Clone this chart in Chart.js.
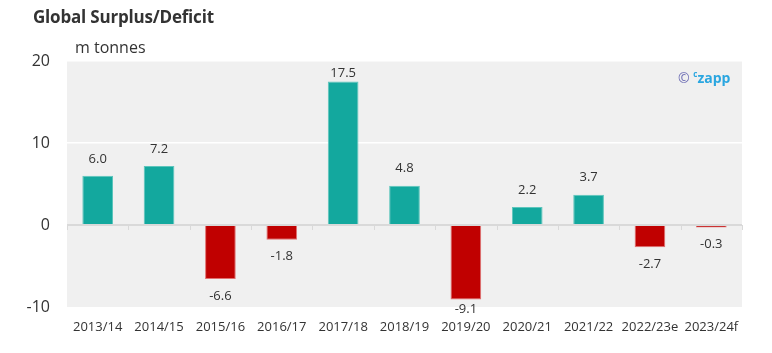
<!DOCTYPE html>
<html>
<head>
<meta charset="utf-8">
<script src="https://cdn.jsdelivr.net/npm/chart.js@4.4.0/dist/chart.umd.min.js"></script>
<style>
  body { margin: 0; background: #fff; font-family: "Open Sans", sans-serif; }
  #wrap { position: relative; width: 772px; height: 353px; }
  #title { position: absolute; left: 33px; top: 5px; font-size: 17px; font-weight: bold; color: #333; letter-spacing: -0.2px; }
  #unit { position: absolute; left: 75px; top: 36px; font-size: 16px; color: #333; }
  #mark { position: absolute; left: 678px; top: 68px; font-size: 14px; }
  #mark .c1 { color: #6f6fb5; }
  #mark .c2 { color: #2aa6e0; font-weight: bold; }
  #mark sup { font-size: 8px; color: #2aa6e0; font-weight: bold; }
</style>
</head>
<body>
<div id="wrap">
  <canvas id="grafico" width="772" height="353"></canvas>
  <div id="title">Global Surplus/Deficit</div>
  <div id="unit">m tonnes</div>
  <div id="mark"><span class="c1">©</span> <span class="c2"><sup>c</sup>zapp</span></div>
</div>
<script>
const seasons = ['2013/14', '2014/15', '2015/16', '2016/17', '2017/18', '2018/19', '2019/20', '2020/21', '2021/22', '2022/23e', '2023/24f'];
const surplus = [6.0, 7.2, -6.6, -1.8, 17.5, 4.8, -9.1, 2.2, 3.7, -2.7, -0.3];
const yTicks = [-10, 0, 10, 20];

const teal = '#13a89e';
const red = '#c00000';

// grey plot area
const plotBg = {
  id: 'plotBg',
  beforeDraw(chart) {
    const a = chart.chartArea;
    const ctx = chart.ctx;
    ctx.save();
    ctx.fillStyle = '#f0f0f0';
    ctx.fillRect(a.left, a.top, a.right - a.left, a.bottom - a.top);
    ctx.restore();
  }
};

// small ticks under the zero line, at category edges
const zeroTicks = {
  id: 'zeroTicks',
  beforeDatasetsDraw(chart) {
    const x = chart.scales.x;
    const y0 = chart.scales.y.getPixelForValue(0);
    const ctx = chart.ctx;
    ctx.save();
    ctx.strokeStyle = '#d9d9d9';
    ctx.lineWidth = 1;
    for (let i = 0; i <= seasons.length; i++) {
      const px = Math.round(x.getPixelForValue(i - 0.5)) + 0.5;
      ctx.beginPath();
      ctx.moveTo(px, y0);
      ctx.lineTo(px, y0 + 5);
      ctx.stroke();
    }
    ctx.restore();
  }
};

// value labels
const valueLabels = {
  id: 'valueLabels',
  afterDatasetsDraw(chart) {
    const ctx = chart.ctx;
    const meta = chart.getDatasetMeta(0);
    const area = chart.chartArea;
    ctx.save();
    ctx.font = '13px "Open Sans"';
    ctx.fillStyle = '#333';
    ctx.textAlign = 'center';
    ctx.textBaseline = 'middle';
    meta.data.forEach((bar, i) => {
      const v = surplus[i];
      let ty;
      if (v >= 0) {
        ty = Math.max(bar.y - 17, area.top + 12);
      } else {
        ty = Math.min(bar.y + 17, area.bottom + 2);
      }
      ctx.fillText(v.toFixed(1), bar.x, ty);
    });
    ctx.restore();
  }
};

const graficoSurplus = new Chart(document.querySelector('#grafico'), {
  type: 'bar',
  data: {
    labels: seasons,
    datasets: [{
      label: 'Surplus/Deficit',
      data: surplus,
      backgroundColor: surplus.map(v => v >= 0 ? teal : red),
      borderColor: surplus.map(v => v >= 0 ? '#5cc5bc' : '#e07070'),
      borderWidth: 1,
      barPercentage: 0.5,
      categoryPercentage: 1.0
    }]
  },
  options: {
    responsive: false,
    animation: false,
    layout: { padding: { top: 61, right: 30, bottom: 0, left: 5 } },
    plugins: {
      legend: { display: false },
      tooltip: { enabled: false }
    },
    scales: {
      x: {
        grid: { display: false, drawTicks: false },
        border: { display: false },
        ticks: { color: '#333', font: { family: 'Open Sans', size: 13 }, padding: 12, maxRotation: 0, autoSkip: false },
        afterFit: s => { s.height = 46; }
      },
      y: {
        min: -10,
        max: 20,
        afterBuildTicks: s => { s.ticks = yTicks.map(v => ({ value: v })); },
        grid: {
          drawTicks: false,
          color: c => c.tick.value === 0 ? '#d9d9d9' : (c.tick.value === -10 ? 'rgba(0,0,0,0)' : '#ffffff'),
          lineWidth: c => c.tick.value === 0 ? 2 : 1.5
        },
        border: { display: false },
        ticks: { color: '#333', font: { family: 'Open Sans', size: 16 }, padding: 17 },
        afterFit: s => { s.width = 62; }
      }
    }
  },
  plugins: [plotBg, zeroTicks, valueLabels]
});
</script>
</body>
</html>
